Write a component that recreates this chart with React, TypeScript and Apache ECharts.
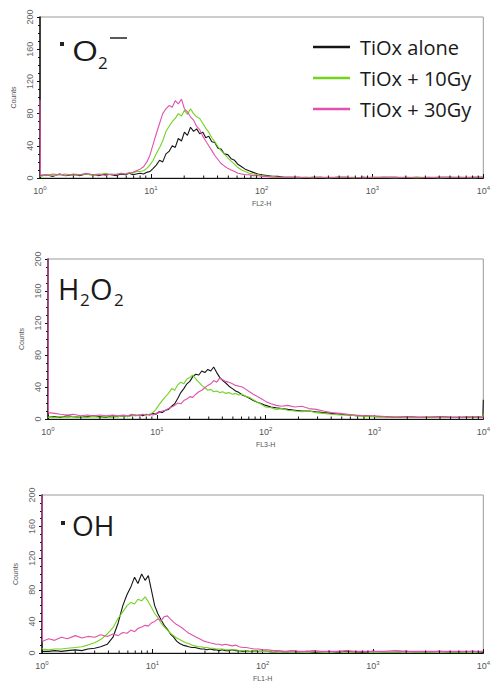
import React, { useEffect, useRef } from "react";
import * as echarts from "echarts";

// shared channel positions (fluorescence, log scale)
const X = [1, 1.01, 1.15, 1.3, 1.5, 1.7, 2, 2.3, 2.6, 3, 3.4, 3.9, 4.4, 4.9, 5.4, 5.9, 6.4, 6.9, 7.4, 8,
  8.6, 9.2, 9.8, 10.5, 11.2, 12, 12.8, 13.7, 14.6, 15.6, 16.6, 17.7, 18.9, 20.1, 21.4, 22.8, 24.3, 25.9, 27.6, 29.4,
  31.3, 33.3, 35.5, 37.8, 40.3, 43, 46, 49.5, 53, 57, 61, 66, 71, 77, 84, 92, 100, 112, 125, 140,
  160, 185, 215, 250, 290, 340, 400, 480, 570, 680, 820, 1000, 1250, 1600, 2000, 2500, 3200, 4000, 5000, 6300,
  8000, 9900, 10000];

const SERIES_NAMES = ["TiOx alone", "TiOx + 10Gy", "TiOx + 30Gy"];
const COLORS = ["#151515", "#72d41f", "#e052ad"];

// Panel 1: O2- (FL2-H)
const O2_ALONE = [4, 3, 4, 2, 5, 3, 4, 3, 5, 4, 3, 5, 4, 3, 5, 4, 6, 4, 5, 6,
  5, 7, 8, 12, 16, 22, 20, 30, 33, 40, 38, 49, 46, 57, 53, 63, 58, 61, 55, 57,
  50, 52, 45, 44, 37, 36, 30, 29, 24, 22, 17, 14, 11, 9, 7, 5, 4, 3, 2, 2,
  1, 1, 1, 0, 1, 1, 0, 1, 1, 0, 1, 0, 1, 1, 0, 1, 0, 1, 1, 0,
  1, 1, 1];
const O2_10GY = [3, 2, 4, 3, 4, 5, 3, 4, 5, 3, 4, 6, 4, 5, 6, 5, 7, 6, 8, 8,
  9, 12, 16, 22, 30, 38, 46, 58, 64, 70, 74, 80, 77, 84, 79, 86, 80, 76, 74, 68,
  62, 57, 50, 45, 39, 34, 30, 25, 21, 17, 13, 10, 8, 6, 5, 4, 3, 2, 2, 1,
  1, 1, 0, 1, 1, 1, 0, 1, 1, 1, 0, 1, 1, 0, 1, 1, 1, 0, 1, 1,
  0, 1, 1];
const O2_30GY = [97, 4, 3, 5, 4, 3, 5, 4, 6, 4, 5, 3, 5, 4, 6, 5, 6, 7, 9, 11,
  14, 20, 28, 42, 55, 68, 80, 86, 90, 88, 96, 92, 98, 86, 82, 76, 72, 64, 60, 52,
  46, 40, 34, 28, 23, 18, 15, 12, 10, 8, 6, 5, 4, 4, 3, 3, 2, 2, 1, 1,
  1, 1, 1, 1, 0, 1, 1, 1, 1, 0, 1, 1, 1, 1, 1, 0, 1, 1, 1, 1,
  1, 1, 1];

// Panel 2: H2O2 (FL3-H)
const H2O2_ALONE = [3, 2, 3, 2, 4, 3, 2, 3, 4, 3, 2, 4, 3, 4, 3, 5, 4, 5, 4, 6,
  5, 7, 6, 9, 8, 11, 12, 16, 19, 26, 33, 38, 44, 47, 53, 56, 55, 60, 58, 62,
  60, 65, 58, 52, 48, 45, 41, 38, 35, 33, 30, 28, 26, 23, 21, 19, 17, 15, 14, 13,
  12, 11, 10, 10, 9, 8, 7, 6, 5, 4, 4, 3, 3, 2, 3, 2, 2, 3, 2, 2,
  3, 2, 24];
const H2O2_10GY = [3, 2, 2, 3, 2, 3, 2, 2, 3, 2, 3, 2, 3, 4, 3, 4, 5, 4, 6, 5,
  6, 8, 12, 18, 23, 28, 32, 38, 36, 43, 46, 44, 50, 52, 55, 50, 46, 42, 39, 36,
  37, 34, 35, 33, 34, 32, 33, 31, 32, 30, 31, 28, 27, 24, 21, 18, 15, 14, 12, 13,
  11, 10, 9, 10, 8, 7, 6, 5, 5, 4, 3, 3, 2, 3, 2, 2, 3, 2, 2, 2,
  3, 2, 6];
const H2O2_30GY = [200, 8, 7, 6, 5, 6, 4, 5, 4, 5, 4, 5, 4, 5, 4, 6, 5, 4, 6, 5,
  6, 5, 7, 8, 10, 11, 13, 15, 17, 20, 19, 23, 25, 28, 27, 31, 34, 36, 39, 42,
  44, 48, 46, 51, 49, 47, 46, 44, 42, 41, 40, 37, 34, 31, 28, 25, 22, 19, 17, 16,
  17, 15, 16, 13, 12, 10, 8, 7, 6, 5, 4, 4, 3, 2, 3, 2, 2, 3, 2, 2,
  2, 2, 3];

// Panel 3: OH (FL1-H)
const OH_ALONE = [3, 2, 2, 3, 2, 3, 4, 3, 5, 6, 8, 11, 20, 38, 60, 74, 84, 96, 88, 100,
  92, 98, 80, 60, 50, 42, 35, 30, 24, 20, 15, 12, 10, 9, 8, 7, 7, 6, 5, 5,
  4, 5, 4, 4, 3, 4, 3, 3, 4, 3, 3, 2, 3, 2, 3, 2, 2, 2, 1, 2,
  1, 2, 1, 2, 1, 1, 2, 1, 2, 1, 1, 2, 1, 1, 2, 1, 1, 2, 1, 1,
  2, 1, 2];
const OH_10GY = [6, 5, 4, 5, 5, 6, 7, 8, 10, 13, 17, 24, 32, 44, 52, 60, 64, 62, 68, 66,
  71, 65, 58, 50, 45, 38, 33, 29, 25, 22, 19, 17, 15, 13, 12, 10, 9, 8, 8, 7,
  7, 6, 6, 5, 5, 5, 4, 4, 4, 4, 3, 3, 3, 2, 3, 2, 2, 2, 1, 2,
  1, 2, 1, 1, 2, 1, 1, 2, 1, 1, 2, 1, 1, 1, 2, 1, 1, 2, 1, 1,
  1, 2, 2];
const OH_30GY = [200, 15, 18, 16, 20, 18, 22, 19, 21, 20, 23, 21, 24, 22, 26, 25, 29, 27, 31, 33,
  35, 34, 38, 40, 43, 41, 46, 47, 43, 39, 36, 34, 31, 28, 25, 23, 21, 19, 17, 15,
  14, 13, 12, 11, 11, 10, 11, 10, 9, 10, 8, 7, 7, 6, 5, 5, 4, 4, 3, 3,
  2, 3, 2, 2, 3, 2, 2, 2, 3, 2, 2, 2, 2, 3, 2, 2, 2, 2, 2, 2,
  2, 2, 2];

const Y_MAX = 200;
const Y_INTERVAL = 40;
const MINOR_TICKS = [2, 3, 4, 5, 6, 7, 8, 9, 20, 30, 40, 50, 60, 70, 80, 90,
  200, 300, 400, 500, 600, 700, 800, 900, 2000, 3000, 4000, 5000, 6000, 7000, 8000, 9000];

const PANELS = [
  { axisName: "FL2-H", data: [O2_ALONE, O2_10GY, O2_30GY], grid: { left: 40, top: 17, width: 447, height: 161 } },
  { axisName: "FL3-H", data: [H2O2_ALONE, H2O2_10GY, H2O2_30GY], grid: { left: 48, top: 259, width: 441, height: 160 } },
  { axisName: "FL1-H", data: [OH_ALONE, OH_10GY, OH_30GY], grid: { left: 42, top: 495, width: 448, height: 161 } },
];

const LABEL_FONT = "Liberation Sans, Arial, sans-serif";
const TITLE_FONT = "Open Sans, sans-serif";

export default function App() {
  const ref = useRef<HTMLDivElement>(null);
  useEffect(() => {
    if (!ref.current) return;
    const chart = echarts.init(ref.current, undefined, { renderer: "svg" });

    const grids: any[] = [];
    const xAxes: any[] = [];
    const yAxes: any[] = [];
    const series: any[] = [];

    PANELS.forEach((p, i) => {
      grids.push({ ...p.grid, show: true, borderColor: "#9a9a9a", borderWidth: 1, backgroundColor: "transparent" });
      xAxes.push({
        gridIndex: i,
        type: "log",
        logBase: 10,
        min: 1,
        max: 10000,
        interval: 1,
        name: p.axisName,
        nameLocation: "middle",
        nameGap: 22,
        nameTextStyle: { fontSize: 7, color: "#555", fontFamily: LABEL_FONT },
        axisLine: { show: true, lineStyle: { color: "#111", width: 1.2 } },
        axisTick: { show: true, inside: true, length: 4, lineStyle: { color: "#111" } },
        splitLine: { show: false },
        minorTick: { show: false },
        axisLabel: {
          margin: 7,
          color: "#555",
          fontFamily: LABEL_FONT,
          fontSize: 9,
          formatter: (v: number) => `10{s|${Math.round(Math.log10(v))}}`,
          rich: { s: { fontSize: 6, padding: [0, 0, 5, 0], color: "#555", fontFamily: LABEL_FONT } },
        },
      });
      yAxes.push({
        gridIndex: i,
        type: "value",
        min: 0,
        max: Y_MAX,
        interval: Y_INTERVAL,
        name: "Counts",
        nameLocation: "middle",
        nameGap: 20,
        nameTextStyle: { fontSize: 7, color: "#555", fontFamily: LABEL_FONT },
        axisLine: { show: true, lineStyle: { color: "#111", width: 1.5 } },
        axisTick: { show: true, length: 3, lineStyle: { color: "#111" } },
        minorTick: { show: true, splitNumber: 4, length: 2, lineStyle: { color: "#111" } },
        splitLine: { show: false },
        axisLabel: { rotate: 90, margin: 6, color: "#666", fontSize: 9, fontFamily: LABEL_FONT },
      });
      p.data.forEach((vals, k) => {
        series.push({
          type: "line",
          name: SERIES_NAMES[k],
          xAxisIndex: i,
          yAxisIndex: i,
          showSymbol: false,
          symbol: "none",
          color: COLORS[k],
          lineStyle: { width: 1.1, color: COLORS[k] },
          data: X.map((x, j) => [x, vals[j]]),
          z: 3 + k,
        });
      });
      series.push({
        type: "custom",
        xAxisIndex: i,
        yAxisIndex: i,
        silent: true,
        clip: false,
        z: 10,
        data: MINOR_TICKS.map((t) => [t, 0]),
        renderItem: (_params: any, api: any) => {
          const c = api.coord([api.value(0), 0]);
          return {
            type: "line",
            shape: { x1: c[0], y1: c[1], x2: c[0], y2: c[1] - 2.5 },
            style: { stroke: "#111", lineWidth: 1 },
          };
        },
      });
    });

    const titleStyle = { fill: "#1a1a1a", fontFamily: TITLE_FONT };
    const graphic: any[] = [
      // ·O2−
      { type: "rect", shape: { x: 60, y: 42, width: 4, height: 4 }, style: { fill: "#222" } },
      { type: "text", x: 72, y: 50, scaleX: 1.2, style: { ...titleStyle, text: "O", fontSize: 28, verticalAlign: "middle" } },
      { type: "text", x: 98, y: 62, style: { ...titleStyle, text: "2", fontSize: 17, verticalAlign: "middle" } },
      { type: "line", shape: { x1: 110, y1: 38, x2: 127, y2: 38 }, style: { stroke: "#222", lineWidth: 1.5 } },
      // H2O2
      { type: "text", x: 58, y: 288, style: { ...titleStyle, text: "H", fontSize: 29, verticalAlign: "middle" } },
      { type: "text", x: 80, y: 299, style: { ...titleStyle, text: "2", fontSize: 17, verticalAlign: "middle" } },
      { type: "text", x: 90, y: 288, style: { ...titleStyle, text: "O", fontSize: 29, verticalAlign: "middle" } },
      { type: "text", x: 114, y: 299, style: { ...titleStyle, text: "2", fontSize: 17, verticalAlign: "middle" } },
      // ·OH
      { type: "rect", shape: { x: 61, y: 521, width: 4, height: 4 }, style: { fill: "#222" } },
      { type: "text", x: 72, y: 525, style: { ...titleStyle, text: "OH", fontSize: 28, verticalAlign: "middle" } },
    ];

    chart.setOption({
      animation: false,
      backgroundColor: "#ffffff",
      grid: grids,
      xAxis: xAxes,
      yAxis: yAxes,
      series,
      graphic,
      legend: {
        data: SERIES_NAMES,
        orient: "vertical",
        left: 308,
        top: 32,
        icon: "rect",
        itemWidth: 37,
        itemHeight: 2.5,
        itemGap: 11,
        textStyle: { fontSize: 20, lineHeight: 20, color: "#1a1a1a", fontFamily: TITLE_FONT, padding: [0, 0, 0, 5] },
        selectedMode: false,
      },
    });
    return () => chart.dispose();
  }, []);
  return <div ref={ref} style={{ position: "absolute", left: 0, top: 0, width: 493, height: 683 }} />;
}
